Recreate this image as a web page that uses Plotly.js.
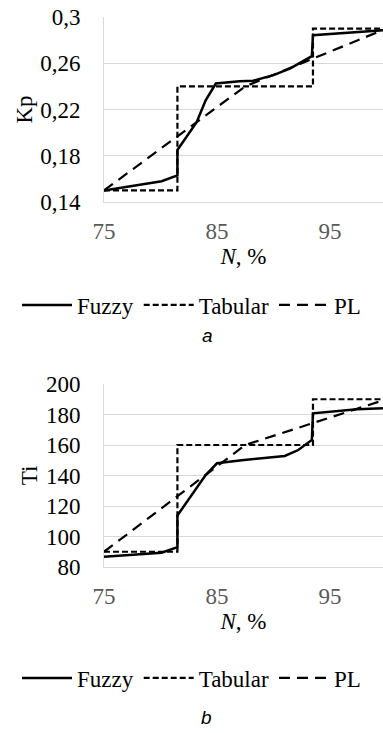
<!DOCTYPE html>
<html>
<head>
<meta charset="utf-8">
<script src="https://cdn.plot.ly/plotly-3.0.1.min.js"></script>
<style>html,body{margin:0;padding:0;background:#fff;}#chart{width:383px;height:733px;}</style>
</head>
<body>
<div id="chart"></div>
<script>
// ---- data ----
const seriesNames = ["Fuzzy", "Tabular", "PL"];

// Chart a: Kp
const fuzzyKpX = [75, 80.1, 81.5, 81.5, 83.2, 84.0, 84.9, 87.0, 88.2, 90.0, 91.5, 92.5, 93.4, 93.5, 99.7];
const fuzzyKpY = [0.150, 0.158, 0.163, 0.185, 0.209, 0.228, 0.2425, 0.2445, 0.2448, 0.2497, 0.2555, 0.2612, 0.2661, 0.2843, 0.2886];
const tabKpX = [75, 81.5, 93.5, 100];
const tabKpY = [0.15, 0.24, 0.29, 0.29];
const plKpX = [75, 87.5, 100];
const plKpY = [0.15, 0.24, 0.29];

// Chart b: Ti
const fuzzyTiX = [75, 80.1, 81.5, 81.5, 84.0, 85.0, 87.0, 89.1, 91.0, 92.2, 93.4, 93.5, 97.4, 99.7];
const fuzzyTiY = [86.8, 89.4, 93.0, 113.8, 140.3, 148.0, 149.9, 151.3, 152.8, 156.7, 163.3, 180.8, 183.4, 184.1];
const tabTiX = [75, 81.5, 93.5, 100];
const tabTiY = [90, 160, 190, 190];
const plTiX = [75, 87.5, 100];
const plTiY = [90, 160, 190];

// ticks
const xTickVals = [75, 85, 95];
const kpTickVals = [0.14, 0.18, 0.22, 0.26, 0.30];
const kpTickText = ["0,14", "0,18", "0,22", "0,26", "0,3"];
const tiTickVals = [80, 100, 120, 140, 160, 180, 200];

// ---- styles ----
const H = 733;
const fy = y => 1 - y / H;
const serif = "Liberation Serif, serif";
const styles = [
  {color: "#000", width: 2.5, dash: "solid"},
  {color: "#000", width: 2.2, dash: "6px,3px"},
  {color: "#000", width: 2.2, dash: "11px,7px"}
];

function tr(x, y, i, xa, ya, lg, shape) {
  return {
    x: x, y: y, type: "scatter", mode: "lines",
    name: seriesNames[i], xaxis: xa, yaxis: ya, legend: lg,
    line: Object.assign({shape: shape || "linear"}, styles[i]),
    hoverinfo: "skip"
  };
}

const data = [
  tr(fuzzyKpX, fuzzyKpY, 0, "x", "y", "legend"),
  tr(tabKpX, tabKpY, 1, "x", "y", "legend", "hv"),
  tr(plKpX, plKpY, 2, "x", "y", "legend"),
  tr(fuzzyTiX, fuzzyTiY, 0, "x2", "y2", "legend2"),
  tr(tabTiX, tabTiY, 1, "x2", "y2", "legend2", "hv"),
  tr(plTiX, plTiY, 2, "x2", "y2", "legend2")
];

const xDom = [104 / 383, 1];
function xAxis(anchor, titleStandoff) {
  return {
    domain: xDom, anchor: anchor, range: [75, 99.7],
    tickvals: xTickVals, ticks: "", showgrid: false, zeroline: false,
    showline: true, linecolor: "#d9d9d9", linewidth: 1,
    tickfont: {family: serif, size: 23, color: "#595959"},
    ticklabelstandoff: 8,
    title: {text: "<i>N</i>, %", font: {family: serif, size: 23, color: "#000"}, standoff: titleStandoff}
  };
}
function yAxis(anchor, dom, range, vals, text, title) {
  const a = {
    domain: dom, anchor: anchor, range: range,
    tickvals: vals, ticks: "", showgrid: true, gridcolor: "#d9d9d9", gridwidth: 1,
    zeroline: false, showline: true, linecolor: "#d9d9d9", linewidth: 1,
    tickfont: {family: serif, size: 23, color: "#000"},
    ticklabelstandoff: 18,
    title: {text: title, font: {family: serif, size: 23, color: "#000"}, standoff: 1}
  };
  if (text) a.ticktext = text;
  return a;
}

const legendFont = {family: serif, size: 23, color: "#000"};
const layout = {
  width: 383, height: 733,
  margin: {l: 0, r: 0, t: 0, b: 0},
  paper_bgcolor: "#fff", plot_bgcolor: "#fff",
  font: {family: serif, color: "#000"},
  separators: ", ",
  showlegend: true,
  xaxis: xAxis("y", 4),
  yaxis: yAxis("x", [fy(202), fy(17)], [0.14, 0.30], kpTickVals, kpTickText, "Kp"),
  xaxis2: xAxis("y2", 4),
  yaxis2: yAxis("x2", [fy(567), fy(384)], [80, 200], tiTickVals, null, "Ti"),
  legend: {orientation: "h", x: 0.5, xanchor: "center", y: fy(305), yanchor: "middle",
           font: legendFont, itemwidth: 50, bgcolor: "rgba(0,0,0,0)"},
  legend2: {orientation: "h", x: 0.5, xanchor: "center", y: fy(678), yanchor: "middle",
            font: legendFont, itemwidth: 50, bgcolor: "rgba(0,0,0,0)"},
  annotations: [
    {text: "<i>a</i>", xref: "paper", yref: "paper", x: 207 / 383, y: fy(335), showarrow: false,
     xanchor: "center", yanchor: "middle", font: {family: "Liberation Sans, sans-serif", size: 19, color: "#000"}},
    {text: "<i>b</i>", xref: "paper", yref: "paper", x: 206 / 383, y: fy(717), showarrow: false,
     xanchor: "center", yanchor: "middle", font: {family: "Liberation Sans, sans-serif", size: 19, color: "#000"}}
  ]
};

Plotly.newPlot("chart", data, layout, {displayModeBar: false, staticPlot: true});
</script>
</body>
</html>
